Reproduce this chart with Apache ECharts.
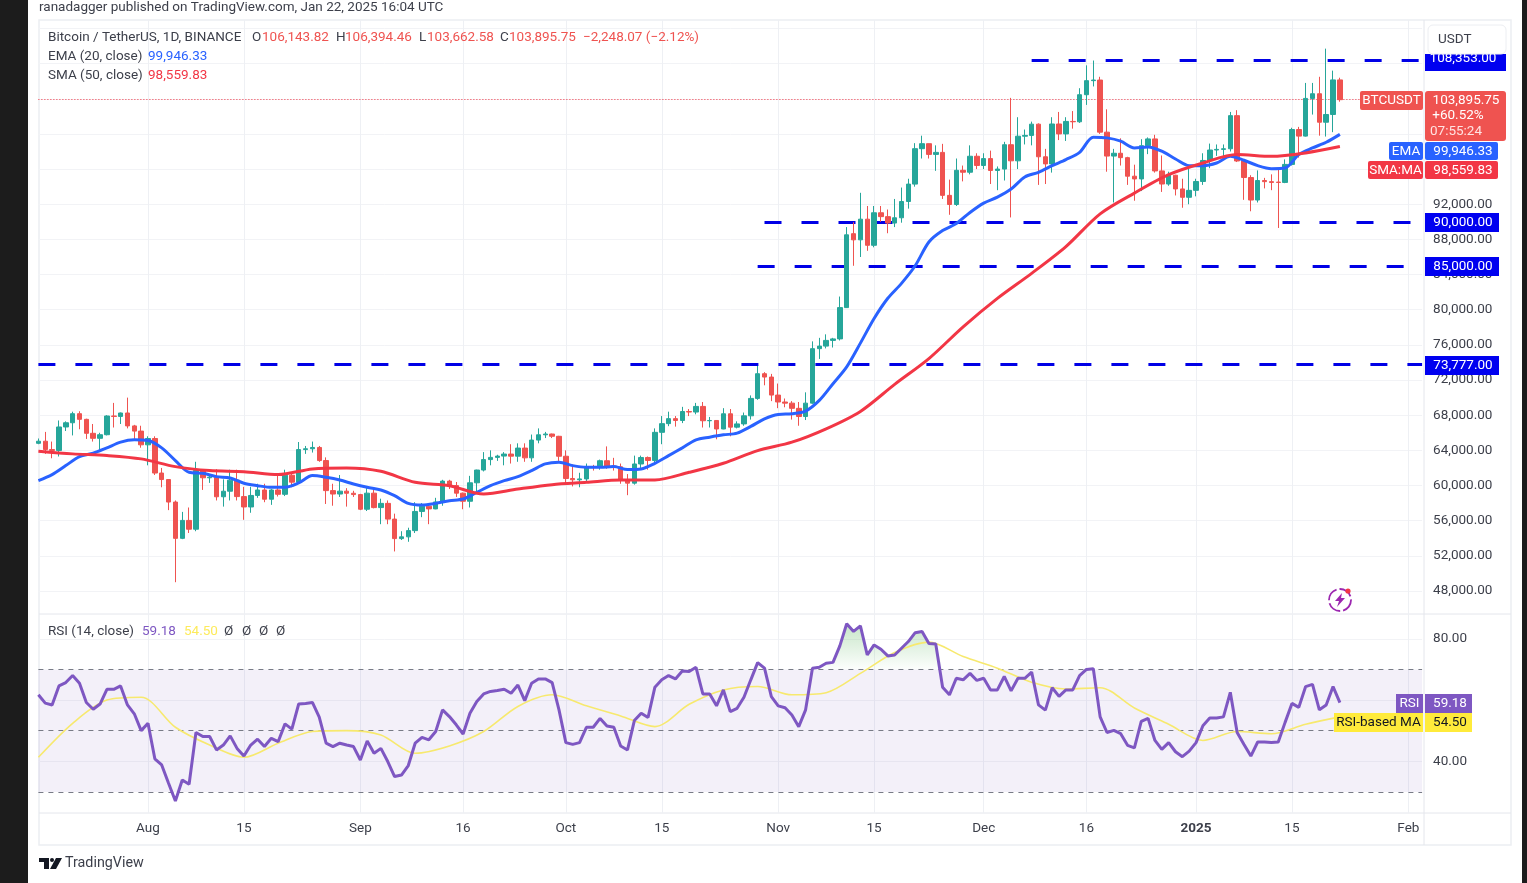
<!DOCTYPE html>
<html><head><meta charset="utf-8">
<style>html,body{margin:0;padding:0;background:#fff}#c{width:1527px;height:883px}</style>
<script src="https://cdn.jsdelivr.net/npm/echarts@6/dist/echarts.min.js"></script>
</head><body><div id="c"></div>
<script>
// one value per session, 2024-07-16 .. 2025-01-22
const opens=[64800,65040,64090,63990,66660,67140,68170,67530,65940,65370,65780,67910,67860,68250,66780,66190,
64630,65350,61420,60680,58120,53990,56030,55030,61710,60880,60950,58720,59350,60610,58740,57560,58870,59490,58440,59490,59000,61170,60380,64090,64180,64330,62840,59420,59030,59360,59120,
58970,57300,59130,57490,57970,56180,53960,54160,54870,57050,57650,57340,58130,60500,59990,59130,58210,60310,61760,62950,63200,63350,63580,63340,64260,63150,65170,65770,65860,65600,
63330,60800,60650,60750,62090,62060,62820,62220,62130,60580,60270,62450,63190,62850,66050,67040,67610,67400,68420,68360,69000,67370,67400,66430,68160,66640,67010,67930,69910,72720,72340,
70290,69500,69370,68780,67850,69370,75570,75860,76510,76680,80240,88650,87950,90300,87330,91030,90590,89860,90460,92310,94290,98320,98890,97670,97900,93010,91970,95860,95640,97460,
96410,97190,95840,96000,98770,96940,99740,99830,101110,97400,96590,101130,100000,101420,101380,104460,106060,106130,100200,97480,97800,97300,95190,94880,98660,99430,95790,94300,95300,93740,92790,
93580,94590,96980,98170,98240,98310,102080,96920,95040,92480,94700,94570,94520,94480,96530,100500,99750,104040,104570,101330,102210,106143.82];
const closes=[65040,64090,63990,66660,67140,68170,67530,65940,65370,65780,67910,67860,68250,66780,66190,64630,
65350,61420,60680,58120,53990,56030,55030,61710,60880,60950,58720,59350,60610,58740,57560,58870,59490,58440,59490,59000,61170,60380,64090,64180,64330,62840,59420,59030,59360,59120,58970,
57300,59130,57490,57970,56180,53960,54160,54870,57050,57650,57340,58130,60500,59990,59130,58210,60310,61760,62950,63200,63350,63580,63340,64260,63150,65170,65770,65860,65600,63330,
60800,60650,60750,62090,62060,62820,62220,62130,60580,60270,62450,63190,62850,66050,67040,67610,67400,68420,68360,69000,67370,67400,66430,68160,66640,67010,67930,69910,72720,72340,70290,
69500,69370,68780,67850,69370,75570,75860,76510,76680,80240,88520,87950,90300,87330,91030,90590,89860,90460,92310,94290,98320,98890,97670,97900,93010,91970,95860,95640,97460,96410,
97190,95840,96000,98770,96940,99740,99830,101110,97400,96590,101130,100000,101420,101380,104460,106060,106130,100200,97480,97800,97300,95190,94880,98660,99430,95790,94300,95300,93740,92790,93580,
94590,96980,98170,98240,98310,102080,96920,95040,92480,94700,94570,94480,94480,96530,100500,99750,104040,104570,101330,102210,106143,103895.75];
const lows=[64700,63600,63100,63300,66200,65700,66400,65300,65000,63800,65700,66600,67000,66500,65300,64300,
62300,61200,59800,57200,49000,53900,54600,54800,59500,60300,58300,57600,58300,58300,56100,56900,58600,58100,57800,58750,58800,59800,60350,63600,63750,62700,57900,57700,58700,57600,58700,
57200,57100,57400,55600,55600,52500,53800,53600,54600,56400,55600,57300,57700,59600,58700,57300,57500,59100,61600,62300,62800,62300,62500,62700,62700,62700,64800,65400,65400,62800,
60100,59900,59800,60450,61700,61800,61900,61700,60200,58900,60100,62000,61800,62450,64700,66750,66700,67100,67900,68100,66600,66600,65260,66400,65600,66500,66800,67500,69750,71400,69600,
68800,68900,67500,66800,67450,69300,74400,75600,75700,76500,80200,85000,86000,86700,87100,90000,88700,89400,89900,91500,94000,97200,97200,95800,92600,90800,91800,94600,95400,96000,
96000,94300,93600,94700,90500,96000,98800,98700,94200,94300,95600,99300,99200,100600,101250,103300,105400,100000,95700,92200,96400,94200,92400,93500,97700,95600,93400,94100,93000,91600,92000,
92900,94200,96100,97500,97400,98000,96800,92500,91200,92200,93800,93600,89300,94400,96400,97300,99700,102200,99800,99700,100200,103662.58];
const highs=[65350,66100,65000,67400,67300,68400,68450,67600,67000,66000,68000,69400,68300,70000,66900,66800,
65600,65600,62000,60700,58300,57000,57500,62700,61750,61200,61850,60700,61800,61800,59850,59850,60200,60200,59600,61400,61800,61400,64950,64500,65000,64500,63200,60200,61200,59700,59400,
59050,59800,59800,58500,58300,56800,54800,55200,58100,58000,58000,58600,60650,60650,60400,59200,61100,61800,63800,64000,63500,63800,64700,64800,64800,65800,66500,66100,65900,65650,
64000,62400,61450,62500,62350,62950,64450,63150,62500,61300,63400,63400,63300,66500,67900,68400,67900,68950,68700,69400,69500,67800,67450,68800,68700,67300,68300,70250,73600,72900,72700,
71600,69900,69600,69500,70600,76400,76800,77200,76800,81500,89400,89950,93300,91800,91800,91800,91400,92600,93900,94900,98950,99800,98900,98700,98870,94800,97200,96400,98700,97800,
97800,98100,96300,99100,104100,101900,100500,101400,101200,98300,101900,102500,101900,102600,105200,107800,108350,106500,102800,98300,99500,97400,96500,99400,99600,99900,97550,95700,95350,94900,96400,
94900,97800,98900,98800,98800,102500,102700,97000,95300,95850,95000,95400,95900,97100,100700,100800,105800,105800,106500,109700,107200,106394.46];
// EMA (20), read every 2nd session from the first one
const emaValues=[60556,61240,62267,63294,63675,64283,64930,65196,65120,64283,62838,61506,61392,61012,60860,60251,59985,59795,59795,60290,61126,60936,60632,60175,59795,59490,58844,57969,57778,
57970,58270,58460,59220,59980,60550,61010,61695,62455,62645,62265,62075,62075,62150,61810,61885,62530,63400,64280,65190,65500,65765,65955,66720,67590,68090,68160,68465,69680,71580,
73500,76200,79000,81300,83000,85000,87700,89000,89800,91065,92130,92815,93730,95100,95630,96390,97075,97910,99630,
99550,99170,98410,98520,98030,97150,96390,96390,96695,97450,97000,96390,96050,96125,97650,98410,99050,99946.33];
// SMA (50), read every 5th session from the first one
const smaValues=[63900,63600,63410,63030,62150,61700,61580,61240,61890,62000,61620,60365,59980,59030,59600,60100,60360,60630,60630,61500,62530,63975,64930,66450,68430,71510,74440,78050,81290,84140,87180,90910,93270,95360,96695,97650,97450,97840,98559.83];
// RSI (14), one value per session
const rsiValues=[61.7,59.0,58.4,64.6,65.7,68.0,65.5,59.2,57.0,58.7,63.5,63.5,64.6,58.4,55.5,50.0,
52.4,40.8,38.8,32.8,27.0,33.9,32.5,49.4,48.1,48.1,43.7,45.3,48.3,44.2,41.7,45.3,47.2,44.8,47.5,46.4,52.2,50.5,58.7,58.9,59.2,54.4,45.9,44.8,45.9,45.3,44.8,
40.4,46.6,42.6,44.2,39.9,35.0,35.5,38.6,45.9,47.8,47.0,49.7,56.8,54.6,51.9,48.9,55.7,59.5,62.0,62.8,63.1,63.5,62.2,64.9,59.8,65.5,66.9,66.9,65.7,56.8,
46.1,45.5,46.1,51.1,51.1,54.0,51.5,51.1,45.0,43.7,53.3,55.7,54.3,64.2,66.6,68.0,66.9,69.5,69.3,70.7,62.0,62.0,58.1,63.3,56.2,57.3,60.9,66.6,72.2,70.4,61.1,
58.1,57.5,55.1,51.3,56.8,70.4,70.7,72.0,72.3,77.7,84.9,82.4,84.2,74.7,78.0,76.6,74.4,74.7,76.9,79.1,82.0,82.4,78.5,78.3,64.2,61.7,67.1,66.6,68.7,66.4,
67.1,63.3,63.3,67.7,63.0,67.1,67.1,69.1,58.4,56.7,64.0,61.2,63.3,63.3,68.0,70.0,70.2,54.5,49.4,50.1,49.0,45.2,44.4,53.0,54.0,46.8,43.9,46.1,43.1,41.5,43.3,
46.1,51.6,54.1,54.1,54.5,62.5,49.4,45.5,41.7,46.3,46.3,46.1,46.3,52.7,58.9,57.6,64.4,65.1,56.8,58.4,64.4,59.18];
// RSI-based MA, read every 5th session from the first one
const rsiMaValues=[41.3,52.4,60.0,60.9,51.1,45.3,41.3,45.9,49.7,50.0,48.6,42.6,45.0,49.7,57.9,61.7,58.1,54.8,51.3,58.6,63.3,64.4,61.7,62.4,68.7,75.5,78.9,74.2,70.4,65.8,63.6,64.0,57.4,52.1,46.8,49.7,49.0,52.1,54.5];
const tickDates=['2024-08-01','2024-08-15','2024-09-01','2024-09-16','2024-10-01','2024-10-15','2024-11-01','2024-11-15','2024-12-01','2024-12-16','2025-01-01','2025-01-15','2025-02-01'];
const tickLabels=['Aug','15','Sep','16','Oct','15','Nov','15','Dec','16','2025','15','Feb'];
const priceTicks=[48000,52000,56000,60000,64000,68000,72000,76000,80000,84000,88000,92000,96000,100000,104000,108000,112000];
const priceLabels=[48000,52000,56000,60000,64000,68000,72000,76000,80000,84000,88000,92000];
const rsiLines=[40,60,80];
const rsiLabels=[40,80];
const levels=[108353,90000,85000,73777];
const levelStart=['2024-12-08','2024-10-30','2024-10-29','2024-07-16'];
const lastPrice=103895.75;

const categories=[];
for(let i=0;i<=202;i++){categories.push(new Date(Date.UTC(2024,6,16+i)).toISOString().slice(0,10));}
const lastCat=categories[categories.length-1];
const candles=opens.map((o,i)=>[o,closes[i],lows[i],highs[i]]);
const every=(vals,step)=>vals.map((v,i)=>[categories[i*step],v]);

const FONT='Roboto, sans-serif', DARK='#3c3f4a', FS=13.5;
const t=(x,y,text,fill,size,align,weight)=>({type:'text',z:101,style:{x,y:y+1.5,text,fill:fill||DARK,font:(weight||'normal')+' '+(size||FS)+'px '+FONT,align:align||'left',verticalAlign:'middle'}});
const r=(x,y,w,h,fill,rad)=>({type:'rect',z:100,shape:{x,y,width:w,height:h,r:rad||0},style:{fill}});
const BL='#0000e6',RED='#ef5350',EMA='#2962ff',SMA='#f23645',PUR='#7e57c2',YEL='#ffeb3b';
const graphic=[
 {type:'rect',z:0,shape:{x:0,y:0,width:28,height:883},style:{fill:'#1c1c1c'}},
 {type:'rect',z:0,shape:{x:1522,y:0,width:5,height:883},style:{fill:'#1c1c1c'}},
 {type:'rect',z:0,shape:{x:39,y:20,width:1472,height:825},style:{fill:'none',stroke:'#eceef2',lineWidth:1.5}},
 {type:'line',z:0,shape:{x1:39,y1:614,x2:1511,y2:614},style:{stroke:'#e4e6ec',lineWidth:1}},
 {type:'line',z:0,shape:{x1:39,y1:813,x2:1511,y2:813},style:{stroke:'#e4e6ec',lineWidth:1}},
 {type:'line',z:0,shape:{x1:1424,y1:20,x2:1424,y2:845},style:{stroke:'#e4e6ec',lineWidth:1}},
 t(39,6,'ranadagger published on TradingView.com, Jan 22, 2025 16:04 UTC',DARK),
 t(48,36,'Bitcoin / TetherUS, 1D, BINANCE'),t(252,36,'O'),t(262,36,'106,143.82',RED),t(336,36,'H'),t(345,36,'106,394.46',RED),
 t(419,36,'L'),t(427,36,'103,662.58',RED),t(500,36,'C'),t(509,36,'103,895.75',RED),t(583,36,'−2,248.07 (−2.12%)',RED),
 t(48,55,'EMA (20, close)'),t(148,55,'99,946.33',EMA),
 t(48,74,'SMA (50, close)'),t(148,74,'98,559.83',SMA),
 t(48,630,'RSI (14, close)'),t(142,630,'59.18',PUR),t(184,630,'54.50','#fdeb5c'),
 t(224,630,'Ø'),t(242,630,'Ø'),t(259,630,'Ø'),t(276,630,'Ø'),
 // right-hand tags
 r(1425,54,81,17,'#0000f0'),t(1463,57,'108,353.00','#fff',FS,'center'),
 {type:'rect',z:102,shape:{x:1428,y:25,width:78,height:29,r:5},style:{fill:'#fff',stroke:'#eceef2'}},
 {...t(1438,38.5,'USDT'),z:103},
 r(1360,91,63,19,RED,2),t(1391.5,99.5,'BTCUSDT','#fff',FS,'center'),
 r(1425,91,81,50,RED,3),t(1466,99,'103,895.75','#fff',FS,'center'),t(1458,114,'+60.52%','#fff',FS,'center'),t(1456,130,'07:55:24','#ffe3e2',FS,'center'),
 r(1389,142,34,18,EMA,2),t(1406,150,'EMA','#fff',FS,'center'),r(1425,142,73,18,EMA,2),t(1463,150,'99,946.33','#fff',FS,'center'),
 r(1368,161,55,18,SMA,2),t(1395.5,169,'SMA:MA','#fff',FS,'center'),r(1425,161,73,18,SMA,2),t(1463,169,'98,559.83','#fff',FS,'center'),
 r(1425,213,74,19,'#0000f0'),t(1463,221,'90,000.00','#fff',FS,'center'),
 r(1425,257,74,19,'#0000f0'),t(1463,265,'85,000.00','#fff',FS,'center'),
 r(1425,356,74,19,'#0000f0'),t(1463,364,'73,777.00','#fff',FS,'center'),
 r(1396,694,27,19,PUR),t(1409.5,702,'RSI','#fff',FS,'center'),r(1425,694,47,19,PUR),t(1450,702,'59.18','#fff',FS,'center'),
 r(1334,713,89,19,YEL),t(1378.5,721,'RSI-based MA','#131722',FS,'center'),r(1425,713,47,19,YEL),t(1450,721,'54.50','#131722',FS,'center'),
 // lightning badge
 {type:'circle',z:100,shape:{cx:1340,cy:600,r:11},style:{fill:'#fff',stroke:'#9c27b0',lineWidth:1.8,lineDash:[14,3]}},
 {type:'polygon',z:101,shape:{points:[[1342,593],[1335,601],[1339,601],[1337,607],[1345,598],[1341,598]]},style:{fill:'#9c27b0'}},
 {type:'circle',z:101,shape:{cx:1348,cy:591,r:2.6},style:{fill:'#f23645'}},
 // footer logo
 {type:'polygon',z:100,shape:{points:[[39,858],[49,858],[49,869],[44,869],[44,862],[39,862]]},style:{fill:'#131722'}},
 {type:'circle',z:100,shape:{cx:52,cy:860,r:2},style:{fill:'#131722'}},
 {type:'polygon',z:100,shape:{points:[[56,858],[62,858],[56,869],[50,869]]},style:{fill:'#131722'}},
 t(65,862,'TradingView','#3c3f4a',14.3),
];

const isTick=(i,v)=>tickDates.indexOf(v)>=0;
const gridLine={show:true,interval:isTick,lineStyle:{color:'#eef0f4',width:1}};
const hGrid={show:true,lineStyle:{color:'#f2f3f6',width:1}};
const lvl=(v,start)=>[{coord:[start,v]},{coord:[lastCat,v]}];

const option={
 animation:false,backgroundColor:'#fff',graphic:{elements:graphic},
 grid:[{left:38.4,width:1383.7,top:20,height:594},{left:38.4,width:1383.7,top:614,height:199}],
 xAxis:[
  {type:'category',gridIndex:0,data:categories,boundaryGap:false,axisLine:{show:false},axisTick:{show:false},axisLabel:{show:false},splitLine:gridLine},
  {type:'category',gridIndex:1,data:categories,boundaryGap:false,axisLine:{show:false},axisTick:{show:false},splitLine:gridLine,
   axisLabel:{show:true,interval:isTick,margin:9,color:DARK,fontFamily:FONT,fontSize:FS,
    formatter:v=>{const s=tickLabels[tickDates.indexOf(v)];return s==='2025'?'{b|2025}':s;},rich:{b:{fontWeight:'bold',fontFamily:FONT,fontSize:FS,color:DARK}}}}
 ],
 yAxis:[
  {type:'value',gridIndex:0,position:'right',min:45383,max:112960,axisLine:{show:false},axisTick:{show:false,customValues:priceTicks},splitLine:hGrid,
   axisLabel:{customValues:priceLabels,margin:11,color:DARK,fontFamily:FONT,fontSize:FS,formatter:v=>v.toLocaleString('en-US',{minimumFractionDigits:2})}},
  {type:'value',gridIndex:1,position:'right',min:23.1,max:88.1,axisLine:{show:false},axisTick:{show:false,customValues:rsiLines},splitLine:hGrid,
   axisLabel:{customValues:rsiLabels,margin:11,color:DARK,fontFamily:FONT,fontSize:FS,formatter:v=>v.toFixed(2)}}
 ],
 series:[
  {type:'candlestick',name:'BTCUSDT',xAxisIndex:0,yAxisIndex:0,data:candles,barWidth:5,z:3,
   itemStyle:{color:'#26a69a',color0:RED,borderColor:'#26a69a',borderColor0:RED,borderWidth:1},
   markLine:{silent:true,symbol:'none',z:1,animation:false,label:{show:false},data:[
    ...levels.map((v,i)=>lvl(v,levelStart[i]).map(p=>({...p,lineStyle:{color:BL,width:3,type:[17,20]}}))),
    [{coord:[categories[0],lastPrice],lineStyle:{color:'#f23645',width:1,type:[1,2],opacity:1}},{coord:['2025-01-25',lastPrice],lineStyle:{color:'#f23645',width:1,type:[1,2],opacity:1}}]
   ]}},
  {type:'line',name:'EMA',xAxisIndex:0,yAxisIndex:0,data:every(emaValues,2),smooth:0.3,showSymbol:false,z:4,lineStyle:{color:EMA,width:3}},
  {type:'line',name:'SMA',xAxisIndex:0,yAxisIndex:0,data:every(smaValues,5),smooth:0.3,showSymbol:false,z:4,lineStyle:{color:SMA,width:3}},
  {type:'line',name:'RSI fill',xAxisIndex:1,yAxisIndex:1,data:rsiValues.map((v,i)=>[categories[i],Math.max(v,70)]),showSymbol:false,z:2,lineStyle:{width:0},
   areaStyle:{origin:70,color:new echarts.graphic.LinearGradient(0,0,0,1,[{offset:0,color:'rgba(76,175,80,0.45)'},{offset:1,color:'rgba(76,175,80,0.02)'}])}},
  {type:'line',name:'RSI-based MA',xAxisIndex:1,yAxisIndex:1,data:every(rsiMaValues,5),smooth:0.3,showSymbol:false,z:3,lineStyle:{color:'#f7e96e',width:1.6}},
  {type:'line',name:'RSI',xAxisIndex:1,yAxisIndex:1,data:rsiValues.map((v,i)=>[categories[i],v]),showSymbol:false,z:4,lineStyle:{color:PUR,width:3},
   markArea:{silent:true,z:1,itemStyle:{color:'rgba(126,87,194,0.09)'},data:[[{yAxis:70,x:38.4},{yAxis:30,x:1422.1}]]},
   markLine:{silent:true,symbol:'none',z:1,animation:false,label:{show:false},lineStyle:{color:'#787b86',width:1,type:[5,5]},data:[{yAxis:70},{yAxis:50},{yAxis:30}]}}
 ]
};
const chart=echarts.init(document.getElementById('c'),null,{renderer:'canvas',width:1527,height:883});
chart.setOption(option);
</script></body></html>
